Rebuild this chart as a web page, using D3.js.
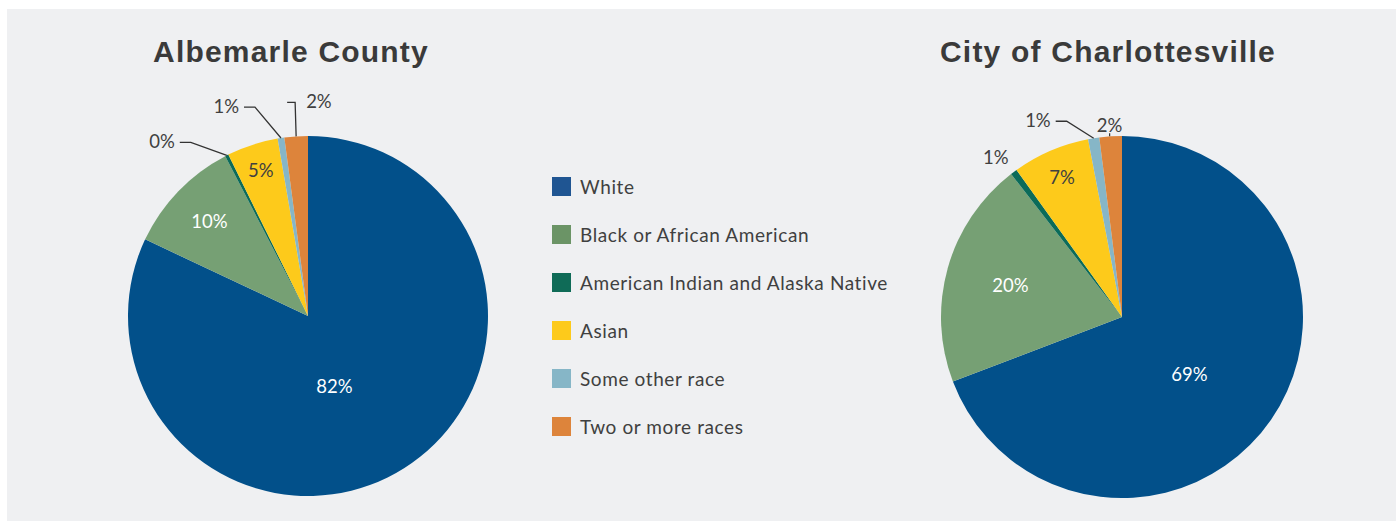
<!DOCTYPE html>
<html>
<head>
<meta charset="utf-8">
<script src="https://cdn.jsdelivr.net/npm/d3@7"></script>
<style>
  html, body { margin: 0; padding: 0; background: #ffffff; }
  svg { display: block; }
</style>
</head>
<body>
<svg id="chart" width="1398" height="522"></svg>
<script>
// ---------- DATA ----------
const categories = [
  "White",
  "Black or African American",
  "American Indian and Alaska Native",
  "Asian",
  "Some other race",
  "Two or more races"
];
const albemarleValues = [82.0, 10.4, 0.3, 4.6, 0.6, 2.1];
const charlottesvilleValues = [69.2, 20.3, 0.6, 6.9, 1.0, 2.0];
const pieTitles = ["Albemarle County", "City of Charlottesville"];

// ---------- STYLE / LAYOUT ----------
const colors = ["#02508a", "#76a074", "#0b6b59", "#fdca1b", "#86b6c7", "#dd843b"];
const legendColors = ["#1f5592", "#6b9466", "#0f6b57", "#fdca1b", "#86b6c7", "#dd843b"];
const textColor = "#404040";
const labelFont = "Lato, 'Open Sans', sans-serif";

const svg = d3.select("#chart");

svg.append("rect")
  .attr("x", 7).attr("y", 9)
  .attr("width", 1389).attr("height", 512)
  .attr("fill", "#eff0f2");

const color = d3.scaleOrdinal().domain(categories).range(colors);

// label placement per pie (inside: radius fraction; outside: leader line geometry)
const pies = [
  {
    title: pieTitles[0], values: albemarleValues,
    cx: 308, cy: 316, r: 180, titleX: 291,
    labels: [
      { type: "in", f: 0.42, rot: 12 },
      { type: "in", f: 0.76 },
      { type: "out", elbow: [-36, -13], run: -11, anchor: "end" },
      { type: "in", f: 0.85 },
      { type: "out", elbow: [-26, -31], run: -11, anchor: "end" },
      { type: "out", elbow: [-1, -34], run: -8, anchor: "start", textDx: 11 }
    ]
  },
  {
    title: pieTitles[1], values: charlottesvilleValues,
    cx: 1122, cy: 317, r: 181, titleX: 1108,
    labels: [
      { type: "in", f: 0.49, rot: 6 },
      { type: "in", f: 0.64 },
      { type: "free", off: [-18, -14] },
      { type: "in", f: 0.84 },
      { type: "out", elbow: [-27, -17], run: -11, anchor: "end" },
      { type: "tick", off: [-1, -11] }
    ]
  }
];

const pieGen = d3.pie().sort(null).value(d => d.v);

pies.forEach(p => {
  const g = svg.append("g").attr("transform", `translate(${p.cx},${p.cy})`);
  const data = categories.map((c, i) => ({ c, v: p.values[i], i }));
  const arcs = pieGen(data);
  const arc = d3.arc().innerRadius(0).outerRadius(p.r);

  g.selectAll("path.slice")
    .data(arcs)
    .join("path")
    .attr("class", "slice")
    .attr("d", arc)
    .attr("fill", d => color(d.data.c))
    .attr("stroke", "none");

  // title
  svg.append("text")
    .attr("x", p.titleX).attr("y", 62)
    .attr("text-anchor", "middle")
    .attr("font-family", "'Liberation Sans', Arial, sans-serif")
    .attr("font-weight", "bold")
    .attr("font-size", 30)
    .attr("letter-spacing", 1.2)
    .attr("fill", "#3a3a3a")
    .text(p.title);

  arcs.forEach(a => {
    const L = p.labels[a.index];
    const mid = (a.startAngle + a.endAngle) / 2;
    const txt = Math.round(a.data.v) + "%";
    const edge = [Math.sin(mid) * p.r, -Math.cos(mid) * p.r];
    const addText = (x, y, anchor, fill) => g.append("text")
      .attr("x", x).attr("y", y)
      .attr("dy", "0.35em")
      .attr("text-anchor", anchor)
      .attr("font-family", labelFont)
      .attr("font-size", 18.5)
      .attr("fill", fill)
      .text(txt);
    if (L.type === "in") {
      const ang = mid + (L.rot || 0) * Math.PI / 180;
      const rr = p.r * L.f;
      addText(Math.sin(ang) * rr, -Math.cos(ang) * rr, "middle",
        a.index === 3 ? textColor : "#ffffff");
    } else if (L.type === "out") {
      const e = [edge[0] + L.elbow[0], edge[1] + L.elbow[1]];
      const end = [e[0] + L.run, e[1]];
      g.append("polyline")
        .attr("points", [edge, e, end].map(q => q.join(",")).join(" "))
        .attr("fill", "none")
        .attr("stroke", "#333333")
        .attr("stroke-width", 1.3);
      const tx = L.anchor === "end" ? end[0] - 5 : e[0] + L.textDx;
      addText(tx, e[1] - 1, L.anchor, textColor);
    } else if (L.type === "free") {
      addText(edge[0] + L.off[0], edge[1] + L.off[1], "middle", textColor);
    } else if (L.type === "tick") {
      g.append("line")
        .attr("x1", edge[0] - 1).attr("y1", edge[1])
        .attr("x2", edge[0] - 1).attr("y2", edge[1] - 3)
        .attr("stroke", "#333333").attr("stroke-width", 1.2);
      addText(edge[0] + L.off[0], edge[1] + L.off[1], "middle", textColor);
    }
  });
});

// legend
const legendY = d3.scalePoint().domain(categories).range([186, 426]);
const lg = svg.append("g");
const items = lg.selectAll("g.item").data(categories).join("g")
  .attr("class", "item")
  .attr("transform", d => `translate(552,${legendY(d)})`);
items.append("rect")
  .attr("x", 0).attr("y", -9)
  .attr("width", 19).attr("height", 19)
  .attr("fill", (d, i) => legendColors[i]);
items.append("text")
  .attr("x", 28).attr("y", 1)
  .attr("dy", "0.35em")
  .attr("font-family", labelFont)
  .attr("font-size", 19)
  .attr("letter-spacing", 0.6)
  .attr("fill", textColor)
  .text(d => d);
</script>
</body>
</html>
